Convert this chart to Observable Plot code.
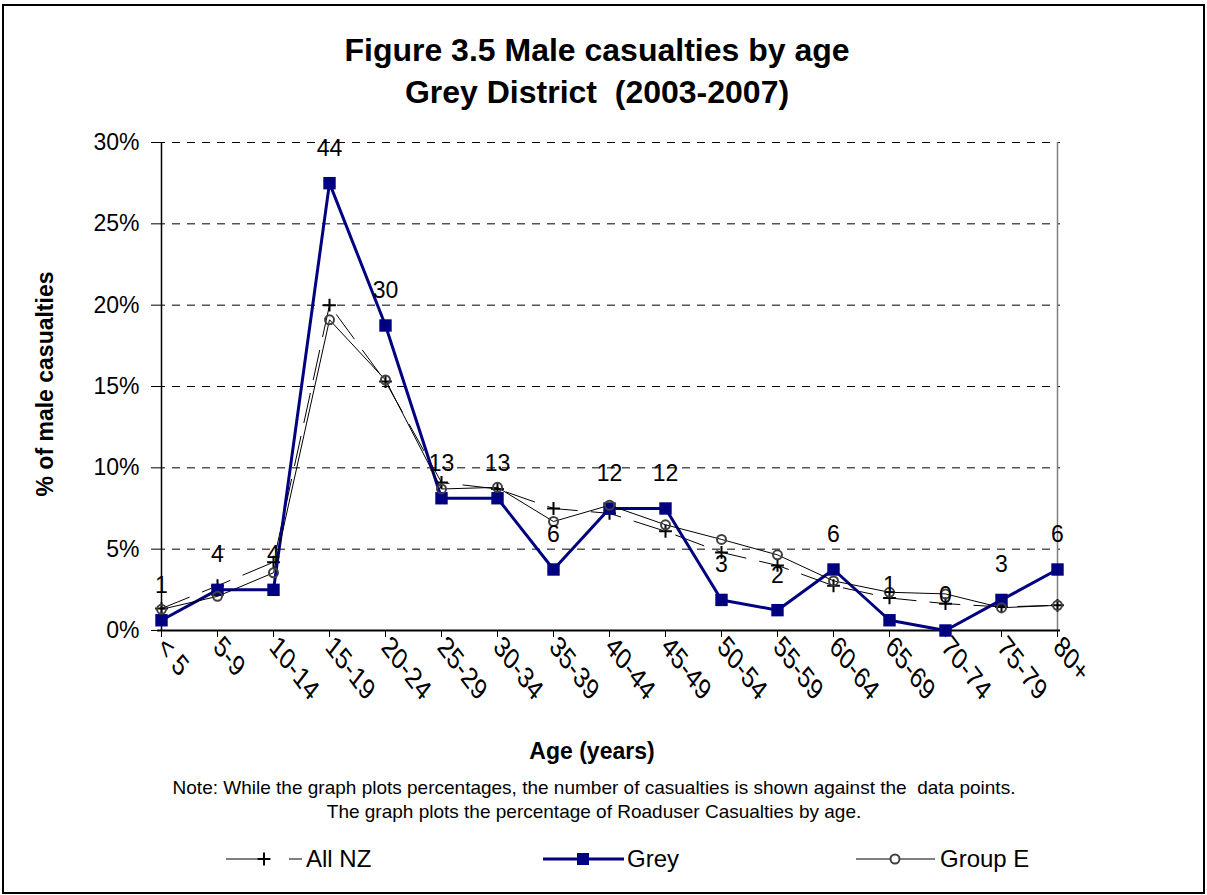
<!DOCTYPE html>
<html>
<head>
<meta charset="utf-8">
<script src="https://cdn.jsdelivr.net/npm/d3@7"></script>
<script src="https://cdn.jsdelivr.net/npm/@observablehq/plot@0.6"></script>
<style>
  body { margin: 0; background: #fff; }
  #wrap { position: relative; width: 1207px; height: 895px; overflow: hidden; background: #fff;
          font-family: "Liberation Sans", Arial, sans-serif; color: #000; }
  #border { position: absolute; left: 2px; top: 4px; width: 1199px; height: 886px; border: 2px solid #000; }
  .c { position: absolute; transform: translate(-50%, -50%); white-space: pre; text-align: center; }
  #title { left: 597px; top: 71px; font-weight: bold; font-size: 32px; line-height: 42px; }
  #ytitle { left: 45px; top: 384px; font-weight: bold; font-size: 23px; transform: translate(-50%, -50%) rotate(-90deg); }
  #xtitle { left: 592px; top: 751px; font-weight: bold; font-size: 23px; }
  #note { left: 594px; top: 800px; font-size: 19px; line-height: 24px; }
  #chart { position: absolute; left: 0; top: 130px; }
  .lg { position: absolute; top: 859px; transform: translateY(-50%); font-size: 24px; white-space: pre; }
  #legsvg { position: absolute; left: 0; top: 847px; }
</style>
</head>
<body>
<div id="wrap">
  <div id="border"></div>
  <div id="title" class="c">Figure 3.5 Male casualties by age
Grey District  (2003-2007)</div>
  <div id="ytitle" class="c">% of male casualties</div>
  <div id="chart"></div>
  <div id="xtitle" class="c">Age (years)</div>
  <div id="note" class="c">Note: While the graph plots percentages, the number of casualties is shown against the  data points.
The graph plots the percentage of Roaduser Casualties by age.</div>
  <svg id="legsvg" width="1207" height="24"></svg>
  <div id="lg1" class="lg"></div>
  <div id="lg2" class="lg"></div>
  <div id="lg3" class="lg"></div>
</div>
<script>
// ---- data ----
const ages = ["< 5","5-9","10-14","15-19","20-24","25-29","30-34","35-39","40-44","45-49","50-54","55-59","60-64","65-69","70-74","75-79","80+"];
const greyCounts = [1, 4, 4, 44, 30, 13, 13, 6, 12, 12, 3, 2, 6, 1, 0, 3, 6];
const greyPct = [0.63, 2.5, 2.5, 27.5, 18.75, 8.13, 8.13, 3.75, 7.5, 7.5, 1.88, 1.25, 3.75, 0.63, 0, 1.88, 3.75];
const allNZPct = [1.35, 2.75, 4.2, 20.0, 15.3, 9.1, 8.7, 7.5, 7.2, 6.1, 4.8, 4.0, 2.75, 2.0, 1.65, 1.45, 1.55];
const groupEPct = [1.3, 2.1, 3.55, 19.1, 15.4, 8.7, 8.8, 6.7, 7.7, 6.5, 5.6, 4.65, 3.05, 2.35, 2.25, 1.4, 1.55];
const yTicks = [0, 5, 10, 15, 20, 25, 30];
const seriesNames = ["All NZ", "Grey", "Group E"];

const rows = ages.map((a, i) => ({age: a, nz: allNZPct[i], grey: greyPct[i], ge: groupEPct[i], n: greyCounts[i]}));
const font = '"Liberation Sans", Arial, sans-serif';
const navy = "#000080";

const chart = Plot.plot({
  width: 1207,
  height: 600,
  marginLeft: 157,
  marginRight: 147,
  marginTop: 12,
  marginBottom: 100,
  style: {fontFamily: font, fontSize: "23px", color: "#000", background: "transparent", overflow: "visible"},
  x: {type: "point", domain: ages, padding: 0},
  y: {domain: [0, 30]},
  marks: [
    Plot.ruleY(yTicks.filter(v => v > 0), {stroke: "#000", strokeWidth: 1, strokeDasharray: "8,7"}),
    Plot.ruleX([ages[ages.length - 1]], {stroke: "#808080", strokeWidth: 1.5}),
    Plot.ruleX([ages[0]], {stroke: "#000", strokeWidth: 1.5}),
    Plot.ruleY([0], {stroke: "#000", strokeWidth: 2}),
    Plot.axisY({ticks: yTicks, tickFormat: d => d + "%", tickSize: 6, tickPadding: 12, label: null, fontSize: 23}),
    Plot.axisX({tickSize: 7, tickPadding: 4, tickRotate: 45, label: null, fontSize: 23}),
    Plot.line(rows, {x: "age", y: "nz", stroke: "#000", strokeWidth: 1, strokeDasharray: "30,14"}),
    Plot.dot(rows, {x: "age", y: "nz", symbol: "plus", r: 4.2, stroke: "#000", strokeWidth: 2}),
    Plot.line(rows, {x: "age", y: "grey", stroke: navy, strokeWidth: 3}),
    Plot.dot(rows, {x: "age", y: "grey", symbol: "square", r: 7, fill: navy}),
    Plot.line(rows, {x: "age", y: "ge", stroke: "#000", strokeWidth: 1}),
    Plot.dot(rows, {x: "age", y: "ge", r: 4.5, stroke: "#404040", strokeWidth: 2, fill: "none"}),
    Plot.text(rows, {x: "age", y: "grey", text: "n", dy: -35, fontSize: 23, fill: "#000"})
  ]
});
document.getElementById("chart").appendChild(chart);

// stretch the rotated age labels vertically, as in the original picture
d3.select(chart).selectAll('g[aria-label="x-axis tick label"] text').each(function() {
  const t = this.getAttribute("transform");
  if (t && t.includes("rotate(")) this.setAttribute("transform", t.replace("rotate(", "scale(1,1.3) rotate("));
});

// ---- legend ----
const lg = d3.select("#legsvg");
const cy = 12;
// All NZ
lg.append("line").attr("x1", 226).attr("x2", 302).attr("y1", cy).attr("y2", cy)
  .attr("stroke", "#000").attr("stroke-width", 1).attr("stroke-dasharray", "36,27");
lg.append("path").attr("d", d3.symbol(d3.symbolPlus, Math.PI * 4.2 * 4.2)()).attr("transform", `translate(264,${cy})`)
  .attr("stroke", "#000").attr("stroke-width", 2).attr("fill", "none");
// Grey
lg.append("line").attr("x1", 543).attr("x2", 624).attr("y1", cy).attr("y2", cy)
  .attr("stroke", navy).attr("stroke-width", 3);
lg.append("rect").attr("x", 577).attr("y", cy - 6).attr("width", 12).attr("height", 12).attr("fill", navy);
// Group E
lg.append("line").attr("x1", 856).attr("x2", 935).attr("y1", cy).attr("y2", cy)
  .attr("stroke", "#000").attr("stroke-width", 1);
lg.append("circle").attr("cx", 895).attr("cy", cy).attr("r", 4.5)
  .attr("stroke", "#404040").attr("stroke-width", 2).attr("fill", "#fff");

const lgText = [document.getElementById("lg1"), document.getElementById("lg2"), document.getElementById("lg3")];
const lgLeft = [306, 627, 940];
lgText.forEach((el, i) => { el.textContent = seriesNames[i]; el.style.left = lgLeft[i] + "px"; });
</script>
</body>
</html>
